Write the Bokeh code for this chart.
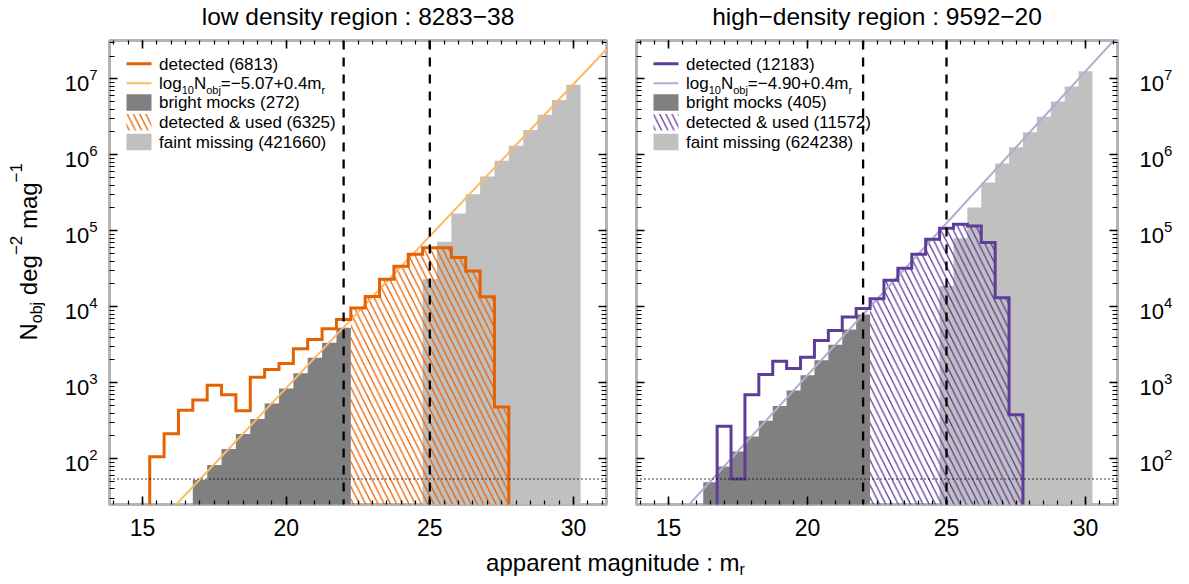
import math
import numpy as np
from bokeh.plotting import figure
from bokeh.layouts import row, column
from bokeh.models import (FixedTicker, LinearAxis, LogAxis, Span, Label,
                          BoxAnnotation, Range1d, CustomJSTickFormatter, LogScale)
from bokeh.embed import file_html
from bokeh.resources import INLINE

FONT = "Liberation Sans"

# ------------------------------------------------------------------ data
bin_width = 0.5
mag_cuts = [22.0, 25.0]            # dashed vertical lines
n_limit = 54                       # dotted horizontal line
x_tick_values = [15, 20, 25, 30]
y_tick_decades = [2, 3, 4, 5, 6, 7]
x_label = ["apparent magnitude : m", "r"]
y_label = ["N", "obj", "deg", "\u22122", "mag", "\u22121"]

low_title = "low density region : 8283\u221238"
low_detected_start = 15.25
low_detected = [106, 214, 434, 594, 928, 698, 430, 1183, 1494, 1791, 2798, 3715,
                5140, 6820, 9620, 13700, 23000, 34100, 49100, 60100, 60100, 44400,
                29600, 13600, 481]
low_bright_start = 16.75
low_bright = [53, 83, 134, 211, 333, 532, 838, 1336, 2128, 3357, 5300]
low_faint_start = 24.75
low_faint = [23000, 72000, 169000, 304000, 520000, 837000, 1320000, 2120000,
             3380000, 5280000, 8400000]
low_used_range = [22.25, 27.75]
low_fit = [-5.07, 0.4]
low_labels = ["detected (6813)", "bright mocks (272)",
              "detected & used (6325)", "faint missing (421660)"]
low_fit_label = ["log", "10", "N", "obj", "=\u22125.07+0.4m", "r"]

high_title = "high\u2212density region : 9592\u221220"
high_detected_start = 16.75
high_detected = [267, 54, 698, 1283, 1923, 1540, 2173, 3604, 4883, 7323, 9520,
                 12770, 22300, 32100, 49100, 77500, 108000, 122000, 116000,
                 70000, 13180, 380]
high_bright_start = 16.25
high_bright = [49, 79, 125, 197, 317, 495, 789, 1257, 1982, 3162, 5031, 7943]
high_faint_start = 24.75
high_faint = [18800, 80000, 203000, 433000, 770000, 1260000, 1980000, 3180000,
              5020000, 7930000, 12600000]
high_used_range = [22.25, 27.75]
high_fit = [-4.90, 0.4]
high_labels = ["detected (12183)", "bright mocks (405)",
               "detected & used (11572)", "faint missing (624238)"]
high_fit_label = ["log", "10", "N", "obj", "=\u22124.90+0.4m", "r"]

# ------------------------------------------------------------------ style
ORANGE, ORANGE_L = "#e66101", "#fdb863"
PURPLE, PURPLE_L = "#5e3c99", "#b2abd2"
DARK_GRAY, LIGHT_GRAY = "#808080", "#c0c0c0"
FRAME_COLOR = "#b4b4b4"
X_RANGE = (13.85, 31.15)
Y_RANGE = (25, 3.2e7)
TITLE_H = 30           # title strip height
PAD_T = 10             # panel border above frame (frame top at y=40)
FRAME_T = TITLE_H + PAD_T
FRAME_H = 464
PAD_B = 44
ROW_H = PAD_T + FRAME_H + PAD_B
FLOOR = 1.0
HATCH = dict(hatch_pattern="\\", hatch_scale=12.4, hatch_weight=1.3)
MID = 0.345            # baseline -> text-centre shift, in em

W = {'l': 222, 'o': 556, 'g': 556, '1': 556, '0': 556, 'N': 722, 'b': 556,
     'j': 222, '=': 584, '\u2212': 584, '5': 556, '.': 278, '7': 556, '+': 584,
     '4': 556, 'm': 833, 'r': 333, '9': 556, ' ': 278, 'd': 556, 'e': 556,
     'a': 556, '2': 556, 'p': 556, 'n': 556, 't': 278, 'u': 556, 'i': 222,
     ':': 278, 'c': 500, 's': 500}


def tw(s, size):
    return sum(W.get(c, 556) for c in s) / 1000.0 * size


LY0, LY1 = math.log10(Y_RANGE[0]), math.log10(Y_RANGE[1])


def y_of(Y):
    """page pixel row -> data value on the shared log axis"""
    return 10 ** (LY1 - (Y - FRAME_T) / FRAME_H * (LY1 - LY0))


def edges(start, n):
    return [start + bin_width * i for i in range(n + 1)]


def lab(p, x, y, s, size, angle=0.0, align="left", y_offset=0.0):
    p.add_layout(Label(x=x, y=y, text=s, text_font=FONT, y_offset=y_offset,
                       text_font_size=f"{size}px", text_align=align,
                       text_baseline="middle", text_color="black",
                       angle=angle))


def style_axis(ax, ticker, major_len=8, minor_len=4, show=False):
    ax.ticker = ticker
    ax.axis_line_color = None
    ax.major_tick_line_color = "black"
    ax.major_tick_line_width = 1.6
    ax.minor_tick_line_color = "black"
    ax.minor_tick_line_width = 1.2
    ax.major_tick_in = major_len
    ax.major_tick_out = 0
    ax.minor_tick_in = minor_len
    ax.minor_tick_out = 0
    if show:
        ax.major_label_text_font = FONT
        ax.major_label_text_font_size = "23px"
        ax.major_label_text_color = "black"
        ax.major_label_standoff = 14
    else:
        ax.formatter = CustomJSTickFormatter(code="return ''")
        ax.major_label_text_color = None
        ax.major_label_text_font_size = "1px"
        ax.major_label_standoff = 0


def blank(fw, fh, xr, yr, log_y=False, bt=0, bb=0):
    p = figure(frame_width=fw, frame_height=fh, x_range=xr, y_range=yr,
               x_axis_type=None, y_axis_type=None, output_backend="svg",
               toolbar_location=None, title=None, min_border_left=0,
               min_border_right=0, min_border_top=bt, min_border_bottom=bb,
               outline_line_color=None, background_fill_color="white",
               border_fill_color="white")
    if log_y:
        p.y_scale = LogScale()
    return p


def make_panel(det_start, det, br_start, br, fa_start, fa, used, fit,
               labels, fit_label, dark, light, FL, fw, bl, brd):
    p = figure(frame_width=fw, frame_height=FRAME_H,
               x_range=Range1d(*X_RANGE), y_range=Range1d(*Y_RANGE),
               y_axis_type="log", output_backend="svg", toolbar_location=None,
               title=None, min_border_left=bl, min_border_right=brd,
               min_border_top=PAD_T, min_border_bottom=PAD_B,
               background_fill_color="white", border_fill_color="white")
    p.outline_line_color = FRAME_COLOR
    p.outline_line_width = 3
    p.grid.visible = False

    def x_of(X):
        return X_RANGE[0] + (X - FL) / fw * (X_RANGE[1] - X_RANGE[0])

    # axes and ticks on all sides
    xt = FixedTicker(ticks=x_tick_values,
                     minor_ticks=[14 + 0.5 * i for i in range(35)])
    ymin = [m * 10 ** k for k in range(1, 8) for m in range(2, 10)]
    yt = FixedTicker(ticks=[10 ** k for k in y_tick_decades], minor_ticks=ymin)
    style_axis(p.xaxis[0], xt, show=True)
    style_axis(p.yaxis[0], yt, minor_len=5)
    top_ax = LinearAxis()
    style_axis(top_ax, xt)
    p.add_layout(top_ax, "above")
    right_ax = LogAxis()
    style_axis(right_ax, yt, minor_len=5)
    p.add_layout(right_ax, "right")

    # histograms
    e = edges(fa_start, len(fa))
    p.varea_step(x=e, y1=[FLOOR] * len(e), y2=list(fa) + [fa[-1]],
                 step_mode="after", fill_color=LIGHT_GRAY)
    e = edges(br_start, len(br))
    p.varea_step(x=e, y1=[FLOOR] * len(e), y2=list(br) + [br[-1]],
                 step_mode="after", fill_color=DARK_GRAY)
    e = edges(det_start, len(det))
    i0 = int(round((used[0] - det_start) / bin_width))
    i1 = int(round((used[1] - det_start) / bin_width))
    ue = e[i0:i1 + 1]
    uv = list(det[i0:i1]) + [det[i1 - 1]]
    p.varea_step(x=ue, y1=[FLOOR] * len(ue), y2=uv, step_mode="after",
                 fill_color=None, fill_alpha=0, hatch_color=dark, **HATCH)

    # fit line
    fx = list(X_RANGE)
    fy = [10 ** (fit[0] + fit[1] * m) for m in fx]
    p.line(fx, fy, line_color=light, line_width=2)

    # detected step outline
    xs = [e[0]] + e[:-1] + [e[-1]]
    ys = [FLOOR] + list(det) + [FLOOR]
    p.step(xs, ys, mode="after", line_color=dark, line_width=3,
           line_join="miter")

    for c in mag_cuts:
        p.add_layout(Span(location=c, dimension="height", line_color="black",
                          line_width=2.3, line_dash="9 8"))
    p.add_layout(Span(location=n_limit, dimension="width", line_color="black",
                      line_width=1.5, line_dash="1 3"))

    # legend (drawn in data coordinates of the panel)
    gx0 = FL + 17
    gx1 = gx0 + 25
    tx = gx1 + 7.5
    rows = [63.3, 82.7, 102.0, 121.7, 141.5]

    def box(Y0, Y1, **kw):
        p.add_layout(BoxAnnotation(left=x_of(gx0), right=x_of(gx1),
                                   top=y_of(Y0), bottom=y_of(Y1),
                                   line_color=None, **kw))

    def text(X, base, s, size):
        lab(p, x_of(X), y_of(base - MID * size), s, size)

    box(rows[0] - 1.5, rows[0] + 1.5, fill_color=dark, fill_alpha=1)
    box(rows[1] - 1.0, rows[1] + 1.0, fill_color=light, fill_alpha=1)
    box(rows[2] - 8.3, rows[2] + 8.3, fill_color=DARK_GRAY, fill_alpha=1)
    box(rows[3] - 8.3, rows[3] + 8.3, fill_color=None, fill_alpha=0,
        hatch_color=dark, **HATCH)
    box(rows[4] - 8.3, rows[4] + 8.3, fill_color=LIGHT_GRAY, fill_alpha=1)

    text(tx, rows[0] + 6.2, labels[0], 17)
    xcur = tx
    for j, piece in enumerate(fit_label):
        small = j in (1, 3, 5)
        size = 11 if small else 17
        text(xcur, rows[1] + 6.2 + (4 if small else 0), piece, size)
        xcur += tw(piece, size)
    text(tx, rows[2] + 6.2, labels[1], 17)
    text(tx, rows[3] + 6.2, labels[2], 17)
    text(tx, rows[4] + 6.2, labels[3], 17)
    return p


# panel geometry on the page
L_FL, L_FW = 109, 497
R_FL, R_FW = 636, 481
YL_W = 100
L_BL, L_BR = L_FL - YL_W, 14
R_BL, R_BR = R_FL - (L_FL + L_FW + L_BR), 9
YR_X0 = R_FL + R_FW + R_BR
YR_W = 1189 - YR_X0

left = make_panel(low_detected_start, low_detected, low_bright_start,
                  low_bright, low_faint_start, low_faint, low_used_range,
                  low_fit, low_labels, low_fit_label, ORANGE, ORANGE_L,
                  L_FL, L_FW, L_BL, L_BR)
right = make_panel(high_detected_start, high_detected, high_bright_start,
                   high_bright, high_faint_start, high_faint, high_used_range,
                   high_fit, high_labels, high_fit_label, PURPLE, PURPLE_L,
                   R_FL, R_FW, R_BL, R_BR)


def decade_labels(p, x0):
    for k in y_tick_decades:
        # "10" baseline 12.5 px below the tick, exponent baseline 1 px below
        lab(p, x0, 10 ** k, "10", 22, y_offset=-(12.5 - MID * 22))
        lab(p, x0 + tw("10", 22), 10 ** k, str(k), 15,
            y_offset=-(1.0 - MID * 15))


# left strip: y tick labels + rotated y title
yl = blank(YL_W, FRAME_H, Range1d(0, YL_W), Range1d(*Y_RANGE), log_y=True,
           bt=PAD_T, bb=PAD_B)
decade_labels(yl, 64.3)
Ystart, base = 340.0, 36.0
sizes = [24, 16, 24, 17, 24, 17]
offs = [0, 6, 0, -15, 0, -15]
gaps = [0, 0, tw(" ", 24), 0, tw(" ", 24), 0]
ycur = Ystart
for piece, size, off, gap in zip(y_label, sizes, offs, gaps):
    ycur -= gap
    lab(yl, base + off - MID * size, y_of(ycur), piece, size, angle=math.pi / 2)
    ycur -= tw(piece, size)

# right strip: y tick labels
yr = blank(YR_W, FRAME_H, Range1d(YR_X0, 1189), Range1d(*Y_RANGE), log_y=True,
           bt=PAD_T, bb=PAD_B)
decade_labels(yr, 1139)

# title strip (data y == page pixel row)
top = blank(1189, TITLE_H, Range1d(0, 1189), Range1d(TITLE_H, 0))
lab(top, L_FL + L_FW / 2, 24 - MID * 24.5, low_title, 24.5, align="center")
lab(top, R_FL + R_FW / 2, 24 - MID * 24.5, high_title, 24.5, align="center")

# x-axis title strip (data y == page pixel row)
bot_y0 = TITLE_H + ROW_H
bottom = blank(1189, 584 - bot_y0, Range1d(0, 1189), Range1d(584, bot_y0))
xw = tw(x_label[0], 24) + tw(x_label[1], 16)
x0 = 615 - xw / 2
lab(bottom, x0, 570 - MID * 24, x_label[0], 24)
lab(bottom, x0 + tw(x_label[0], 24), 575 - MID * 16, x_label[1], 16)

layout = column(top, row(yl, left, right, yr), bottom)
open("out.html", "w").write(file_html(layout, INLINE))
